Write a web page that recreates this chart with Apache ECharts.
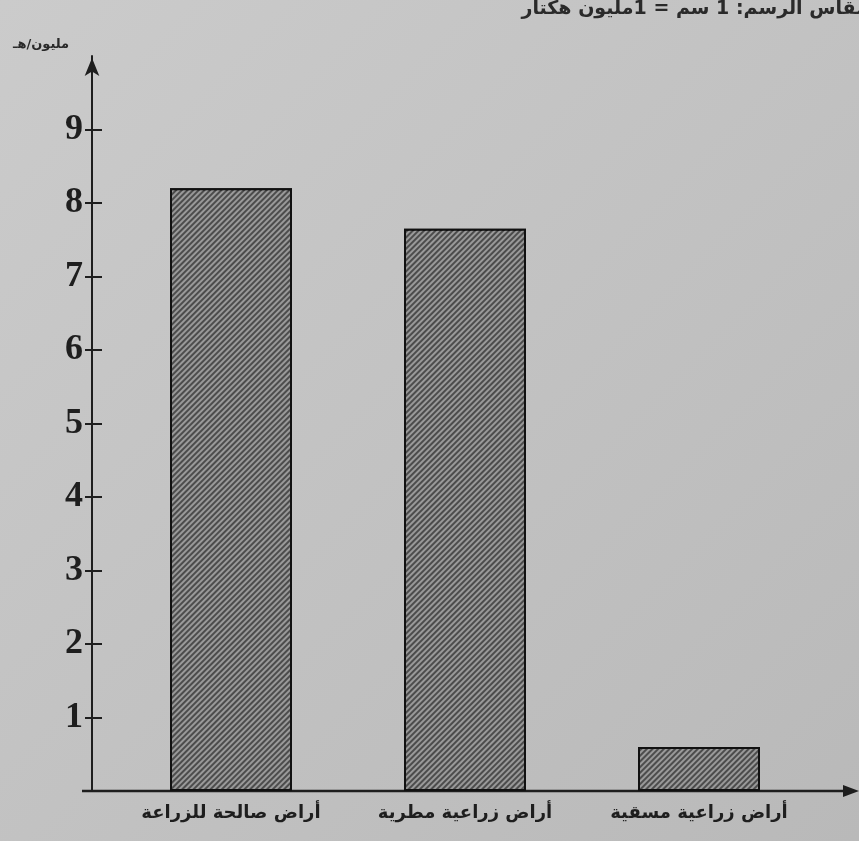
<!DOCTYPE html>
<html>
<head>
<meta charset="utf-8">
<script src="https://cdn.jsdelivr.net/npm/echarts@6/dist/echarts.min.js"></script>
<style>
html,body{margin:0;padding:0;}
#c{width:859px;height:841px;}
</style>
</head>
<body>
<div id="c"></div>
<script>
const categories = ['أراض صالحة للزراعة', 'أراض زراعية مطرية', 'أراض زراعية مسقية'];
const values = [8.2, 7.65, 0.6];
const tickValues = [1, 2, 3, 4, 5, 6, 7, 8, 9];
const titleText = 'مقاس الرسم: 1 سم = 1مليون هكتار';
const unitText = 'مليون/هـ';

const chart = echarts.init(document.getElementById('c'));
const ink = '#1e1e1e';
chart.setOption({
  animation: false,
  backgroundColor: {
    type: 'linear', x: 0, y: 0, x2: 1, y2: 1,
    colorStops: [{offset: 0, color: '#cbcbcb'}, {offset: 1, color: '#b9b9b9'}]
  },
  title: [
    {text: titleText, right: -14, top: -5,
     textStyle: {fontFamily: 'DejaVu Sans', fontSize: 19, fontWeight: 'bold', color: '#2a2a2a'}},
    {text: unitText, left: 8, top: 33,
     textStyle: {fontFamily: 'DejaVu Sans', fontSize: 13, fontWeight: 'bold', color: '#2a2a2a'}}
  ],
  grid: {left: 114, right: 43, top: 56, bottom: 50, containLabel: false},
  xAxis: {
    type: 'category',
    data: categories,
    axisLine: {show: false},
    axisTick: {show: false},
    axisLabel: {interval: 0, margin: 13, fontFamily: 'DejaVu Sans', fontSize: 18, fontWeight: 'bold', color: ink}
  },
  yAxis: [
    {
      type: 'value', min: 0, max: 10, offset: 22,
      axisLine: {show: true, symbol: ['none', 'arrow'], symbolSize: [11, 18], symbolOffset: [0, -2],
                 lineStyle: {color: ink, width: 2}},
      axisTick: {show: true, customValues: tickValues, length: 7, lineStyle: {color: ink, width: 2}},
      axisLabel: {customValues: tickValues, margin: 9, fontFamily: 'Liberation Serif', fontSize: 36,
                  fontWeight: 'bold', color: ink},
      splitLine: {show: false}
    },
    {
      type: 'value', min: 0, max: 10, offset: 22, position: 'left',
      axisLine: {show: false},
      axisTick: {show: true, inside: true, customValues: tickValues, length: 10, lineStyle: {color: ink, width: 2}},
      axisLabel: {show: false},
      splitLine: {show: false}
    }
  ],
  graphic: [
    {type: 'line', shape: {x1: 82, y1: 791, x2: 845, y2: 791}, style: {stroke: ink, lineWidth: 2.5}},
    {type: 'polygon', shape: {points: [[843, 785], [859, 791], [843, 797]]}, style: {fill: ink}}
  ],
  series: [{
    type: 'bar',
    data: values,
    barWidth: 122,
    itemStyle: {
      color: '#4c4c4c',
      borderColor: '#111',
      borderWidth: 2,
      decal: {
        symbol: 'rect',
        dashArrayX: [1, 0],
        dashArrayY: [2, 2],
        rotation: -Math.PI / 4,
        color: 'rgba(185,185,185,0.7)'
      }
    }
  }]
});
</script>
</body>
</html>
